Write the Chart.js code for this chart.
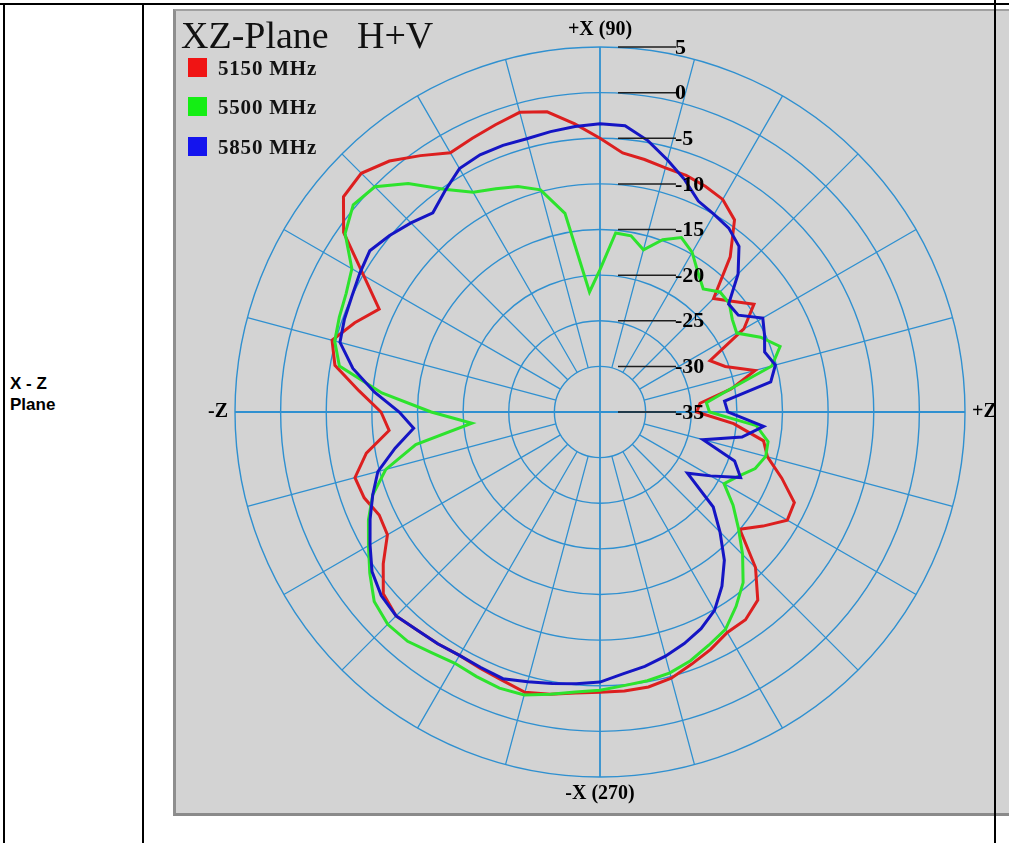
<!DOCTYPE html>
<html>
<head>
<meta charset="utf-8">
<script src="https://cdn.jsdelivr.net/npm/chart.js@4"></script>
<style>
  html, body { margin: 0; padding: 0; background: #fff; }
  body { width: 1009px; height: 843px; overflow: hidden; position: relative; }
  .line { position: absolute; background: #000; }
  #cellText { position: absolute; left: 10px; top: 373px; font: bold 17px "Liberation Sans", Arial, sans-serif; line-height: 21px; color: #000; }
  #box { position: absolute; left: 173px; top: 9px; width: 840px; height: 802px;
         background: #d3d3d3; border-left: 3px solid #8e8e8e; border-top: 2px solid #a0a0a0; border-bottom: 3px solid #8a8a8a; }
  #chart { position: absolute; left: 176px; top: 12px; }
  .title { position: absolute; top: 16px; font: 38px "Liberation Serif", serif; line-height: 38px; color: #111; white-space: pre; }
  .leg { position: absolute; left: 188px; height: 20px; font: bold 21px "Liberation Serif", serif; letter-spacing: 0.8px; line-height: 20px; color: #111; white-space: pre; }
  .leg span { display: inline-block; width: 19px; height: 19px; vertical-align: top; margin-right: 11px; }
</style>
</head>
<body>
<div id="box"></div>
<canvas id="chart" width="833" height="802"></canvas>
<div class="title" style="left:181px">XZ-Plane</div>
<div class="title" style="left:357px">H+V</div>
<div id="legend"></div>
<div id="cellText">X - Z<br>Plane</div>
<div class="line" style="left:0;top:3px;width:1009px;height:2px"></div>
<div class="line" style="left:3px;top:3px;width:2px;height:840px"></div>
<div class="line" style="left:142px;top:3px;width:2px;height:840px"></div>
<div class="line" style="left:994px;top:0;width:2px;height:843px"></div>
<script>
// angles in degrees, listed clockwise starting from +X (90) at the top
const angles = [90,85,80,75,70,65,60,55,50,45,40,35,30,25,20,15,10,5,0,
  355,350,345,340,335,330,325,320,315,310,305,300,295,290,285,280,275,270,265,260,
  255,250,245,240,235,230,225,220,215,210,205,200,195,190,185,180,175,170,165,160,
  155,150,145,140,135,130,125,120,115,110,105,100,95];

// gain in dB, same order as angles
const gain5150 = [-5.0,-6.5,-6.9,-7.3,-7.4,-7.7,-8.1,-9.3,-12.8,-17.4,-16.1,-14.4,-16.8,-21.7,-20.4,-17.4,-20.4,-24.0,-24.4,
  -20.3,-16.8,-16.0,-13.8,-11.5,-11.3,-13.2,-15.0,-10.9,-8.1,
  -7.2,-7.1,-6.3,-5.6,-4.8,-4.4,-4.3,-4.3,-4.1,-3.6,
  -3.2,-3.7,-4.0,-4.2,-4.0,-3.8,-3.4,-4.0,-6.0,-8.1,
  -8.3,-7.5,-7.2,-9.0,-11.8,-11.0,-8.5,-5.5,-4.6,-6.4,
  -8.3,-5.1,-0.7,1.7,2.0,0.9,-0.7,-2.2,-1.9,-1.5,
  -1.0,-1.6,-3.3];
const gain5500 = [-19.4,-15.3,-15.4,-16.6,-14.9,-13.9,-14.8,-16.3,-17.4,-16.4,-16.5,-17.3,-17.7,-15.6,-14.0,-15.5,-20.5,-23.3,-23.0,
  -17.8,-16.3,-16.2,-16.9,-18.3,-19.3,-17.2,-15.2,-12.9,-10.6,
  -9.0,-7.5,-6.8,-6.0,-5.4,-5.1,-4.9,-4.5,-4.2,-3.6,
  -2.9,-2.8,-3.0,-3.2,-2.8,-2.2,-2.1,-2.7,-4.2,-5.7,
  -7.0,-8.5,-10.7,-14.5,-20.9,-16.5,-11.0,-6.0,-4.9,-4.6,
  -4.3,-3.6,-0.9,0.3,-0.1,-2.3,-5.2,-7.2,-8.0,-8.7,
  -9.8,-12.9,-21.8];
const gain5850 = [-3.4,-3.5,-4.8,-6.4,-7.9,-9.5,-10.0,-10.4,-11.3,-13.6,-16.6,-16.5,-14.4,-15.1,-15.8,-15.1,-16.0,-21.3,-21.0,
  -17.0,-19.2,-23.3,-19.3,-18.0,-21.0,-23.3,-18.8,-16.4,-13.8,
  -11.7,-9.9,-8.8,-8.0,-7.3,-6.7,-6.2,-5.4,-5.1,-4.8,
  -4.4,-3.9,-4.1,-4.2,-4.0,-3.8,-3.4,-3.7,-4.5,-5.9,
  -7.2,-8.5,-9.8,-12.2,-14.5,-13.0,-10.2,-7.5,-5.5,-5.2,
  -5.0,-4.6,-4.2,-4.9,-5.7,-6.5,-5.4,-4.2,-3.9,-3.9,
  -4.0,-3.8,-3.6];

const seriesNames = ['5150 MHz', '5500 MHz', '5850 MHz'];
const lineColors = ['#dc1f1f', '#2de32d', '#1515c4'];
const keyColors = ['#f01414', '#14ee14', '#1414ee'];
const ringTicks = [5, 0, -5, -10, -15, -20, -25, -30, -35];
const axisNames = { 90: '+X (90)', 0: '+Z', 270: '-X (270)', 180: '-Z' };

// html legend
const legend = document.getElementById('legend');
const legendTops = [58, 97, 137];
seriesNames.forEach((name, i) => {
  const d = document.createElement('div');
  d.className = 'leg';
  d.style.top = legendTops[i] + 'px';
  d.innerHTML = '<span style="background:' + keyColors[i] + '"></span>' + name;
  legend.appendChild(d);
});

const gridBlue = '#2f90d0';

const polarLabels = {
  id: 'polarLabels',
  afterDatasetsDraw(chart) {
    const s = chart.scales.r;
    const ctx = chart.ctx;
    ctx.save();
    // ring values with their leader lines
    ctx.font = 'bold 22px "Liberation Serif", serif';
    ctx.textAlign = 'left';
    ctx.textBaseline = 'middle';
    ringTicks.forEach(v => {
      const y = s.yCenter - s.getDistanceFromCenterForValue(v);
      ctx.strokeStyle = '#1e1e1e';
      ctx.lineWidth = 1.5;
      ctx.beginPath();
      ctx.moveTo(s.xCenter + 18, y);
      ctx.lineTo(s.xCenter + 76, y);
      ctx.stroke();
      ctx.fillStyle = '#000';
      ctx.fillText(String(v), s.xCenter + 75, y + 1);
    });
    // axis names
    ctx.font = 'bold 20px "Liberation Serif", serif';
    angles.forEach((a, i) => {
      const name = axisNames[a];
      if (!name) return;
      const p = s.getPointPosition(i, s.drawingArea + 7);
      if (a === 90) { ctx.textAlign = 'center'; ctx.textBaseline = 'bottom'; }
      else if (a === 270) { ctx.textAlign = 'center'; ctx.textBaseline = 'top'; }
      else if (a === 0) { ctx.textAlign = 'left'; ctx.textBaseline = 'middle'; }
      else { ctx.textAlign = 'right'; ctx.textBaseline = 'middle'; }
      ctx.fillText(name, p.x, p.y);
    });
    ctx.restore();
  }
};

new Chart(document.getElementById('chart'), {
  type: 'radar',
  data: {
    labels: angles,
    datasets: [
      { label: seriesNames[0], data: gain5150, borderColor: lineColors[0], order: 2 },
      { label: seriesNames[1], data: gain5500, borderColor: lineColors[1], order: 1 },
      { label: seriesNames[2], data: gain5850, borderColor: lineColors[2], order: 0 }
    ]
  },
  options: {
    responsive: false,
    animation: false,
    layout: { padding: { left: 59, right: 44, top: 35, bottom: 37 } },
    elements: {
      line: { borderWidth: 3, fill: false, tension: 0 },
      point: { radius: 0, hoverRadius: 0 }
    },
    plugins: { legend: { display: false }, tooltip: { enabled: false } },
    scales: {
      r: {
        min: -35,
        max: 5,
        ticks: { stepSize: 5, display: false },
        grid: { circular: true, color: gridBlue, lineWidth: 1.4 },
        angleLines: {
          color: gridBlue,
          lineWidth: c => (angles[c.index] % 90 === 0 ? 1.8 : (angles[c.index] % 15 === 0 ? 1.3 : 0)),
          borderDash: c => (angles[c.index] % 90 === 0 ? [] : [0, c.scale.getDistanceFromCenterForValue(-30), 2000])
        },
        pointLabels: { display: false }
      }
    }
  },
  plugins: [polarLabels]
});
</script>
</body>
</html>
